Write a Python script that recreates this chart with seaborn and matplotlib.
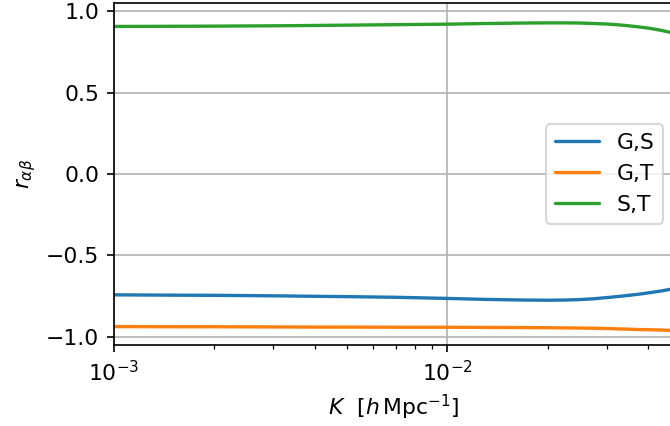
import numpy as np
import pandas as pd
import matplotlib
matplotlib.use("Agg")
import matplotlib.pyplot as plt
import seaborn as sns

k = [0.001, 0.0015, 0.002, 0.003, 0.004, 0.005, 0.007, 0.01, 0.013,
     0.017, 0.02, 0.0225, 0.025, 0.0275, 0.03, 0.0325, 0.035, 0.0375,
     0.04, 0.0435, 0.0475]
r_GS = [-0.742, -0.744, -0.745, -0.748, -0.751, -0.753, -0.757, -0.764, -0.770,
        -0.774, -0.775, -0.774, -0.771, -0.766, -0.759, -0.752, -0.745, -0.738,
        -0.730, -0.719, -0.705]
r_GT = [-0.937, -0.938, -0.938, -0.939, -0.940, -0.940, -0.941, -0.941, -0.942,
        -0.943, -0.944, -0.945, -0.946, -0.947, -0.949, -0.951, -0.953, -0.955,
        -0.956, -0.958, -0.961]
r_ST = [0.906, 0.907, 0.908, 0.910, 0.912, 0.914, 0.917, 0.920, 0.924,
        0.927, 0.928, 0.928, 0.927, 0.924, 0.921, 0.916, 0.910, 0.903,
        0.896, 0.883, 0.866]
labels = ["G,S", "G,T", "S,T"]

df = pd.concat([
    pd.DataFrame({"K": k, "r": vals, "pair": lab})
    for lab, vals in zip(labels, [r_GS, r_GT, r_ST])
])

sns.set_style("ticks")
plt.rcParams.update({
    "font.family": ["DejaVu Sans"],
    "font.size": 10.5,
    "text.color": "black",
    "axes.labelcolor": "black",
    "axes.grid": True,
    "grid.color": "#b0b0b0",
    "grid.linewidth": 0.8,
    "axes.edgecolor": "black",
    "axes.linewidth": 0.8,
    "xtick.color": "black",
    "ytick.color": "black",
    "xtick.direction": "out",
    "ytick.direction": "out",
    "xtick.major.size": 3.5,
    "ytick.major.size": 3.5,
    "xtick.minor.size": 2,
})

fig = plt.figure(figsize=(670 / 150, 426 / 150), dpi=150)
ax = fig.add_axes([114 / 670, 81 / 426, (674 - 114) / 670, (345 - 3) / 426])

sns.lineplot(data=df, x="K", y="r", hue="pair", palette="tab10",
             linewidth=1.6, ax=ax, estimator=None)

ax.set_xscale("log")
ax.set_xlim(1e-3, 0.0478)
ax.set_ylim(-1.05, 1.05)
ax.set_yticks([-1.0, -0.5, 0.0, 0.5, 1.0])
ax.grid(True, which="major", color="#b0b0b0", linewidth=0.8)
ax.grid(False, which="minor")
ax.tick_params(axis="x", which="minor", length=2, width=0.6)
for s in ax.spines.values():
    s.set_visible(True)
    s.set_color("black")
    s.set_linewidth(0.8)

ax.set_xlabel(r"$K\ \ [h\,\mathrm{Mpc}^{-1}]$")
ax.set_ylabel(r"$r_{\alpha\beta}$")

handles, labs = ax.get_legend_handles_labels()
ax.legend(handles, labs, loc="center right", frameon=True, framealpha=0.8,
          edgecolor="#cccccc", fancybox=True)

fig.savefig("out.png", dpi=150)
